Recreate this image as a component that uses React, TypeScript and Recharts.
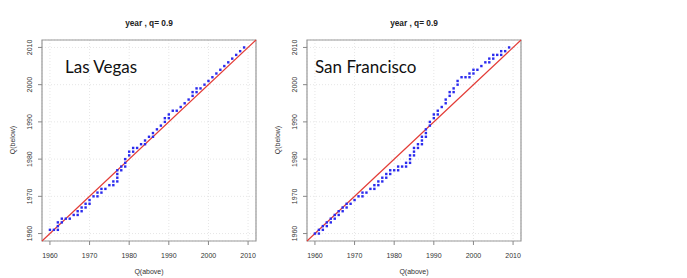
import React from "react";
import {
  ScatterChart,
  Scatter,
  XAxis,
  YAxis,
  CartesianGrid,
  ReferenceLine,
  ReferenceArea,
} from "recharts";

const axisTicks = [1960, 1970, 1980, 1990, 2000, 2010];
const axisDomain = [1958, 2012];
const panelTitle = "year , q= 0.9";
const xAxisTitle = "Q(above)";
const yAxisTitle = "Q(below)";

const lasVegasX = [
  1960, 1961, 1962, 1962, 1962, 1963, 1963, 1964, 1965, 1966, 1967, 1967, 1968, 1968, 1969, 1969,
  1970, 1970, 1971, 1972, 1972, 1973, 1973, 1974, 1975, 1976, 1976, 1977, 1977, 1977, 1977, 1978,
  1978, 1979, 1979, 1979, 1980, 1980, 1981, 1981, 1982, 1983, 1984, 1984, 1985, 1986, 1986, 1987,
  1988, 1989, 1989, 1990, 1990, 1991, 1992, 1993, 1994, 1995, 1996, 1996, 1997, 1997, 1998, 1999,
  2000, 2001, 2002, 2003, 2004, 2005, 2006, 2007, 2008, 2009,
];
const lasVegasY = [
  1961, 1961, 1961, 1962, 1963, 1963, 1964, 1964, 1964, 1965, 1965, 1966, 1966, 1967, 1967, 1968,
  1968, 1969, 1970, 1970, 1971, 1971, 1972, 1972, 1973, 1973, 1974, 1974, 1975, 1976, 1977, 1977,
  1978, 1978, 1979, 1980, 1981, 1982, 1982, 1983, 1983, 1984, 1984, 1985, 1986, 1986, 1987, 1988,
  1989, 1990, 1991, 1991, 1992, 1993, 1993, 1994, 1995, 1996, 1997, 1998, 1998, 1999, 1999, 2000,
  2001, 2002, 2003, 2004, 2005, 2006, 2007, 2008, 2009, 2010,
];

const sanFranciscoX = [
  1960, 1961, 1961, 1962, 1962, 1963, 1963, 1964, 1964, 1965, 1965, 1966, 1966, 1967, 1967, 1968,
  1968, 1969, 1970, 1971, 1972, 1972, 1973, 1974, 1975, 1975, 1976, 1976, 1977, 1977, 1978, 1978,
  1979, 1979, 1980, 1981, 1981, 1982, 1983, 1983, 1984, 1984, 1984, 1985, 1985, 1985, 1986, 1986,
  1987, 1987, 1987, 1988, 1988, 1988, 1989, 1989, 1990, 1990, 1991, 1991, 1992, 1993, 1993, 1994,
  1994, 1995, 1995, 1996, 1996, 1997, 1998, 1999, 1999, 2000, 2000, 2001, 2002, 2003, 2004, 2004,
  2005, 2005, 2006, 2007, 2007, 2008, 2009,
];
const sanFranciscoY = [
  1960, 1960, 1961, 1961, 1962, 1962, 1963, 1963, 1964, 1964, 1965, 1965, 1966, 1966, 1967, 1967,
  1968, 1968, 1969, 1970, 1970, 1971, 1971, 1972, 1972, 1973, 1973, 1974, 1974, 1975, 1975, 1976,
  1976, 1977, 1977, 1977, 1978, 1978, 1978, 1979, 1979, 1980, 1981, 1981, 1982, 1983, 1983, 1984,
  1984, 1985, 1986, 1986, 1987, 1988, 1989, 1990, 1991, 1992, 1992, 1993, 1994, 1995, 1996, 1997,
  1998, 1998, 1999, 2000, 2001, 2002, 2002, 2002, 2003, 2003, 2004, 2004, 2005, 2006, 2006, 2007,
  2007, 2008, 2008, 2008, 2009, 2009, 2010,
];

const toPoints = (xs: number[], ys: number[]) => xs.map((x, i) => ({ x, y: ys[i] }));

const FONT = "'Liberation Sans', Arial, Helvetica, sans-serif";
const CHART_W = 265;
const CHART_H = 278;

const XTick = (props: any) => {
  const { x, y, payload } = props;
  return (
    <text x={x} y={y + 11} textAnchor="middle" fontSize={7} fill="#333" fontFamily={FONT}>
      {payload.value}
    </text>
  );
};

const YTick = (props: any) => {
  const { x, y, payload } = props;
  const bx = x - 4;
  return (
    <text
      x={bx}
      y={y}
      transform={`rotate(-90, ${bx}, ${y})`}
      textAnchor="middle"
      fontSize={7}
      fill="#333"
      fontFamily={FONT}
    >
      {payload.value}
    </text>
  );
};

const Square = (props: any) => {
  const { cx, cy } = props;
  if (cx == null || cy == null) return null;
  return <rect x={cx - 1.2} y={cy - 1.2} width={2.4} height={2.4} fill="#2a2aee" />;
};

const Panel = ({ left, points }: { left: number; points: { x: number; y: number }[] }) => (
  <div style={{ position: "absolute", left, top: 0, width: CHART_W, height: CHART_H }}>
    <ScatterChart
      width={CHART_W}
      height={CHART_H}
      margin={{ top: 40, right: 9, bottom: 17, left: 12 }}
    >
      <CartesianGrid stroke="#e6e6e6" strokeDasharray="1 2" />
      <XAxis
        type="number"
        dataKey="x"
        domain={axisDomain}
        ticks={axisTicks}
        interval={0}
        allowDataOverflow
        axisLine={false}
        tickLine={{ stroke: "#888" }}
        tickSize={4}
        height={20}
        tick={XTick}
      />
      <YAxis
        type="number"
        dataKey="y"
        domain={axisDomain}
        ticks={axisTicks}
        interval={0}
        allowDataOverflow
        axisLine={false}
        tickLine={{ stroke: "#888" }}
        tickSize={4}
        width={30}
        tick={YTick}
      />
      <ReferenceArea
        x1={1958}
        x2={2012}
        y1={1958}
        y2={2012}
        fill="none"
        fillOpacity={0}
        stroke="#999"
        strokeWidth={1.2}
      />
      <Scatter data={points} shape={Square} isAnimationActive={false} />
      <ReferenceLine
        segment={[
          { x: 1958, y: 1958 },
          { x: 2012, y: 2012 },
        ]}
        stroke="#e33b36"
        strokeWidth={1.2}
      />
    </ScatterChart>
  </div>
);

export default function App() {
  const lv = toPoints(lasVegasX, lasVegasY);
  const sf = toPoints(sanFranciscoX, sanFranciscoY);
  return (
    <div style={{ position: "absolute", left: 0, top: 0, width: 687, height: 278, background: "#fff" }}>
      <Panel left={0} points={lv} />
      <Panel left={265} points={sf} />
      <svg
        width={687}
        height={278}
        style={{ position: "absolute", left: 0, top: 0, pointerEvents: "none" }}
      >
        <g fontFamily={FONT}>
          <text x={149} y={25.5} textAnchor="middle" fontSize={8.3} fontWeight="bold" fill="#222">
            {panelTitle}
          </text>
          <text x={414} y={25.5} textAnchor="middle" fontSize={8.3} fontWeight="bold" fill="#222">
            {panelTitle}
          </text>
          <text x={149} y={274} textAnchor="middle" fontSize={7} fill="#333">
            {xAxisTitle}
          </text>
          <text x={414} y={274} textAnchor="middle" fontSize={7} fill="#333">
            {xAxisTitle}
          </text>
          <text x={15} y={140} transform="rotate(-90, 15, 140)" textAnchor="middle" fontSize={7} fill="#333">
            {yAxisTitle}
          </text>
          <text x={280} y={140} transform="rotate(-90, 280, 140)" textAnchor="middle" fontSize={7} fill="#333">
            {yAxisTitle}
          </text>
        </g>
        <g fontFamily="Lato, 'Open Sans', sans-serif" fill="#111">
          <text x={65} y={73} fontSize={17}>
            Las Vegas
          </text>
          <text x={315} y={73} fontSize={17}>
            San Francisco
          </text>
        </g>
      </svg>
    </div>
  );
}
